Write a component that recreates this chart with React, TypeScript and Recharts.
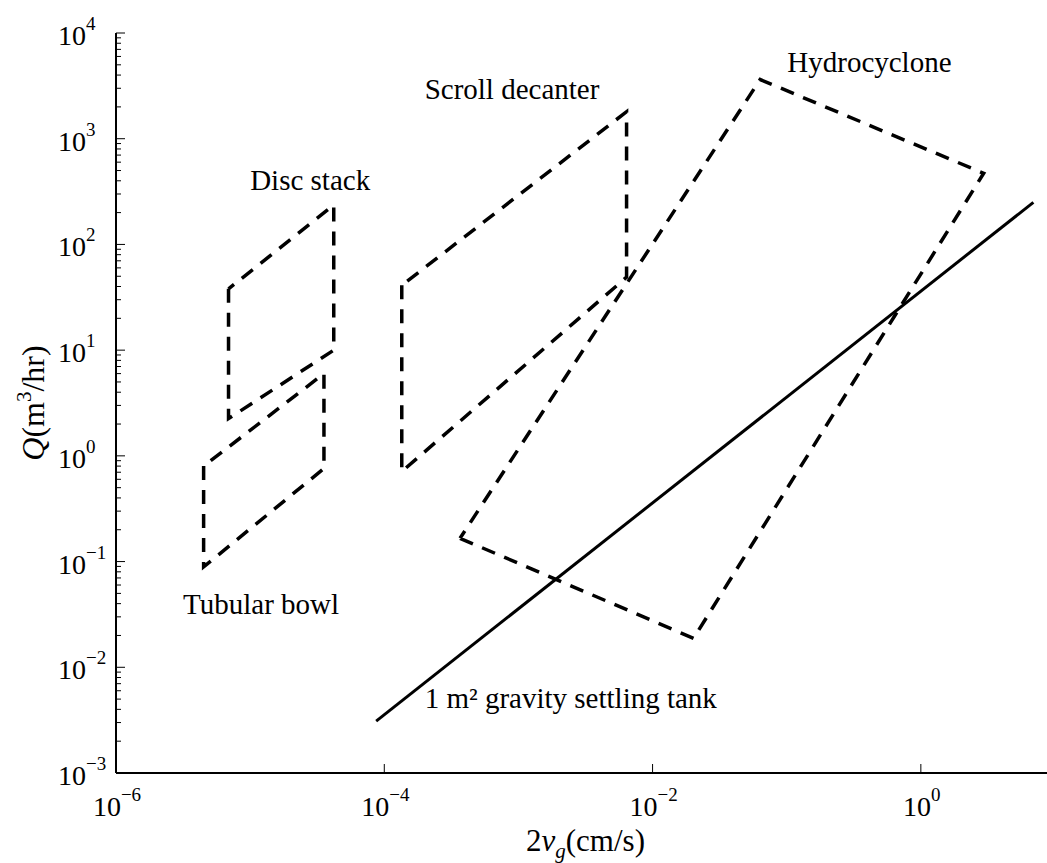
import React from 'react';
import { ScatterChart, Scatter, XAxis, YAxis } from 'recharts';

// ---- data (log-log axes) ----
const xTicks = [1e-6, 1e-4, 1e-2, 1e0];
const yMajorTicks = [1e-3, 1e-2, 1e-1, 1e0, 1e1, 1e2, 1e3, 1e4];
const yMinorMultipliers = [2, 3, 4, 5, 6, 7, 8, 9];

const tubularBowl = [
  { x: 4.5e-6, y: 0.8 },
  { x: 4.5e-6, y: 0.089 },
  { x: 3.55e-5, y: 0.76 },
  { x: 3.55e-5, y: 6.0 },
  { x: 4.5e-6, y: 0.8 },
];
const discStack = [
  { x: 6.9e-6, y: 38 },
  { x: 6.9e-6, y: 2.25 },
  { x: 4.2e-5, y: 10 },
  { x: 4.2e-5, y: 236 },
  { x: 6.9e-6, y: 38 },
];
const scrollDecanter = [
  { x: 1.35e-4, y: 41 },
  { x: 1.35e-4, y: 0.71 },
  { x: 6.4e-3, y: 49 },
  { x: 6.4e-3, y: 1800 },
  { x: 1.35e-4, y: 41 },
];
const hydrocyclone = [
  { x: 3.67e-4, y: 0.166 },
  { x: 0.0202, y: 0.0188 },
  { x: 2.94, y: 471 },
  { x: 0.0634, y: 3630 },
  { x: 3.67e-4, y: 0.166 },
];
const gravityTank = [
  { x: 8.7e-5, y: 0.0031 },
  { x: 6.9, y: 250 },
];

const labelTexts = ['Disc stack', 'Scroll decanter', 'Hydrocyclone', 'Tubular bowl', '1 m\u00B2 gravity settling tank'];
const labelXs = [1.0e-5, 2.0e-4, 0.101, 3.16e-6, 2.0e-4];
const labelYs = [327, 2380, 4280, 0.0318, 0.0041];
const labels = labelTexts.map((text, i) => ({ x: labelXs[i], y: labelYs[i], text }));

const yTicks: number[] = [];
yMajorTicks.forEach((m, i) => {
  yTicks.push(m);
  if (i < yMajorTicks.length - 1) yMinorMultipliers.forEach((k) => yTicks.push(m * k));
});

// ---- styling ----
const FONT = 'Liberation Serif, serif';
const TICK_FS = 28;
const EXP_FS = 19;
const DASH = { stroke: '#000', strokeWidth: 3.5, strokeDasharray: '14 10', fill: 'none' };

const isMajor = (v: number) => Math.abs(Math.log10(v) - Math.round(Math.log10(v))) < 1e-6;
const expText = (v: number) => {
  const e = Math.round(Math.log10(v));
  return e < 0 ? '\u2212' + Math.abs(e) : String(e);
};

const LeftTick = (props: any) => {
  const { x, y, payload } = props;
  const v = payload.value;
  const major = isMajor(v);
  return (
    <g>
      <line x1={x} x2={x + (major ? 9 : 5)} y1={y} y2={y} stroke="#000" strokeWidth={1} />
      {major && (
        <text x={x - 58} y={y + 12} fontFamily={FONT} fontSize={TICK_FS} fill="#000" textAnchor="start">
          10<tspan dy={-15} fontSize={EXP_FS}>{expText(v)}</tspan>
        </text>
      )}
    </g>
  );
};

const RightTick = (props: any) => {
  const { x, y, payload } = props;
  const major = isMajor(payload.value);
  return <line x1={x} x2={x - (major ? 9 : 5)} y1={y} y2={y} stroke="#000" strokeWidth={1} />;
};

const BottomTick = (props: any) => {
  const { x, y, payload } = props;
  return (
    <g>
      <line x1={x} x2={x} y1={y} y2={y - 9} stroke="#000" strokeWidth={1} />
      <text x={x + 1} y={y + 43} fontFamily={FONT} fontSize={TICK_FS} fill="#000" textAnchor="middle">
        10<tspan dy={-15} fontSize={EXP_FS}>{expText(payload.value)}</tspan>
      </text>
    </g>
  );
};

const TopTick = (props: any) => {
  const { x, y } = props;
  return <line x1={x} x2={x} y1={y} y2={y + 9} stroke="#000" strokeWidth={1} />;
};

const XTitle = (props: any) => {
  const vb = props.viewBox || { x: 116, y: 773, width: 939, height: 60 };
  const cx = vb.x + vb.width / 2;
  return (
    <text x={cx} y={vb.y + 78} textAnchor="middle" fontFamily={FONT} fontSize={31} fill="#000">
      2<tspan fontStyle="italic">v</tspan>
      <tspan fontStyle="italic" fontSize={21} dy={7}>g</tspan>
      <tspan dy={-7}>(cm/s)</tspan>
    </text>
  );
};

const YTitle = (props: any) => {
  const vb = props.viewBox || { x: 56, y: 33, width: 60, height: 740 };
  const cy = vb.y + vb.height / 2;
  const bx = vb.x - 12;
  return (
    <text x={bx} y={cy} transform={`rotate(-90, ${bx}, ${cy})`} textAnchor="middle" fontFamily={FONT} fontSize={32} fill="#000">
      <tspan fontStyle="italic">Q</tspan>
      <tspan>(m</tspan>
      <tspan dy={-13} fontSize={21}>3</tspan>
      <tspan dy={13}>/hr)</tspan>
    </text>
  );
};

const LabelShape = (props: any) => {
  const { cx, cy, payload } = props;
  return (
    <text x={cx} y={cy} fontFamily={FONT} fontSize={29} fill="#000" textAnchor="start">
      {payload.text}
    </text>
  );
};

const NoDot = () => <g />;

const axisLine = { stroke: '#000', strokeWidth: 2 };

export default function App() {
  return (
    <div style={{ position: 'absolute', left: 0, top: 0, width: 1047, height: 863, overflow: 'hidden', background: '#fff' }}>
      <ScatterChart width={1100} height={863} margin={{ top: 33, right: 45, bottom: 30, left: 56 }}>
        <XAxis
          type="number"
          dataKey="x"
          scale="log"
          domain={[1e-6, 10]}
          allowDataOverflow
          ticks={xTicks}
          interval={0}
          tickSize={0}
          tickMargin={0}
          tickLine={false}
          tick={(p: any) => <BottomTick {...p} />}
          axisLine={axisLine}
          height={60}
          label={(p: any) => <XTitle {...p} />}
        />
        <XAxis
          xAxisId="top"
          orientation="top"
          type="number"
          dataKey="x"
          scale="log"
          domain={[1e-6, 10]}
          allowDataOverflow
          ticks={xTicks}
          interval={0}
          tickSize={0}
          tickMargin={0}
          tickLine={false}
          tick={(p: any) => <TopTick {...p} />}
          axisLine={axisLine}
          height={0}
        />
        <YAxis
          type="number"
          dataKey="y"
          scale="log"
          domain={[1e-3, 1e4]}
          allowDataOverflow
          ticks={yTicks}
          interval={0}
          tickSize={0}
          tickMargin={0}
          tickLine={false}
          tick={(p: any) => <LeftTick {...p} />}
          axisLine={axisLine}
          width={60}
          label={(p: any) => <YTitle {...p} />}
        />
        <YAxis
          yAxisId="right"
          orientation="right"
          type="number"
          dataKey="y"
          scale="log"
          domain={[1e-3, 1e4]}
          allowDataOverflow
          ticks={yTicks}
          interval={0}
          tickSize={0}
          tickMargin={0}
          tickLine={false}
          tick={(p: any) => <RightTick {...p} />}
          axisLine={axisLine}
          width={0}
        />
        <Scatter name="Tubular bowl" data={tubularBowl} fill="#000" line={DASH} lineType="joint" shape={NoDot} isAnimationActive={false} />
        <Scatter name="Disc stack" data={discStack} fill="#000" line={DASH} lineType="joint" shape={NoDot} isAnimationActive={false} />
        <Scatter name="Scroll decanter" data={scrollDecanter} fill="#000" line={DASH} lineType="joint" shape={NoDot} isAnimationActive={false} />
        <Scatter name="Hydrocyclone" data={hydrocyclone} fill="#000" line={DASH} lineType="joint" shape={NoDot} isAnimationActive={false} />
        <Scatter
          name="Gravity settling tank"
          data={gravityTank}
          fill="#000"
          line={{ stroke: '#000', strokeWidth: 3, fill: 'none' }}
          lineType="joint"
          shape={NoDot}
          isAnimationActive={false}
        />
        <Scatter name="labels" data={labels} fill="#000" shape={(p: any) => <LabelShape {...p} />} isAnimationActive={false} />
      </ScatterChart>
    </div>
  );
}
